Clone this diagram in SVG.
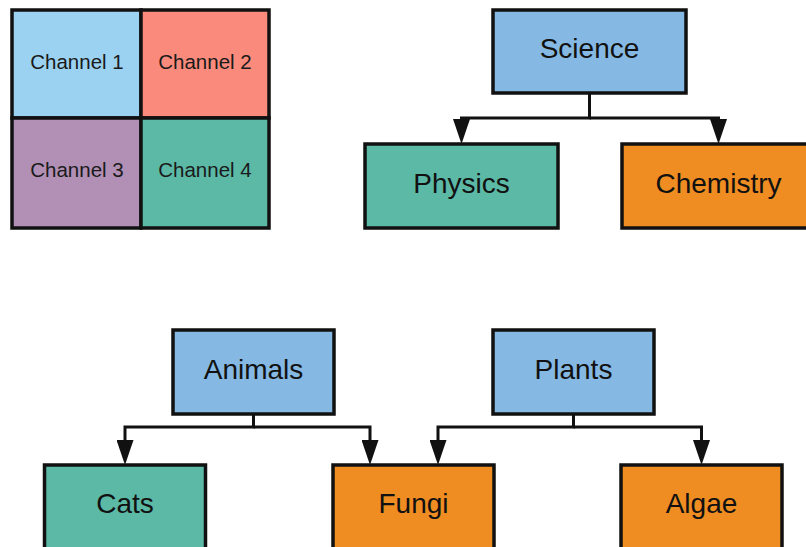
<svg xmlns="http://www.w3.org/2000/svg" width="806" height="547" viewBox="0 0 806 547">
  <style>
    .box { stroke: #111; stroke-width: 3.5; }
    .cell { stroke: #111; stroke-width: 3.5; }
    .blue { fill: #85b9e3; }
    .teal { fill: #5bb9a6; }
    .orange { fill: #ef8c22; }
    .lbl { font-family: "Liberation Sans", Arial, sans-serif; font-size: 28px; fill: #111; text-anchor: middle; }
    .sm { font-family: "Liberation Sans", Arial, sans-serif; font-size: 20.5px; fill: #1a1a1a; text-anchor: middle; }
    .wire { fill: none; stroke: #111; stroke-width: 3; marker-end: url(#arrow); }
  </style>
  <defs>
    <marker id="arrow" markerUnits="userSpaceOnUse" viewBox="0 0 25 17" refX="0" refY="8.5" markerWidth="25" markerHeight="17" orient="auto">
      <path d="M0,0 L25,8.5 L0,17 z" fill="#111"/>
    </marker>
  </defs>
  <rect width="806" height="547" fill="#fff"/>

  <!-- channel grid -->
  <g id="channel-grid">
    <g id="channel-1">
      <rect class="cell" x="12" y="10" width="129" height="108" fill="#9bd2f1"/>
      <text class="sm" x="77" y="69">Channel 1</text>
    </g>
    <g id="channel-2">
      <rect class="cell" x="141" y="10" width="128" height="108" fill="#fa8b7c"/>
      <text class="sm" x="205" y="69">Channel 2</text>
    </g>
    <g id="channel-3">
      <rect class="cell" x="12" y="118" width="129" height="110" fill="#b290b6"/>
      <text class="sm" x="77" y="177">Channel 3</text>
    </g>
    <g id="channel-4">
      <rect class="cell" x="141" y="118" width="128" height="110" fill="#5bb9a6"/>
      <text class="sm" x="205" y="177">Channel 4</text>
    </g>
  </g>

  <!-- connectors -->
  <g id="connectors">
    <path class="wire" d="M589.5,93 V118 H461.5 V119"/>
    <path class="wire" d="M589.5,118 H718.5 V119"/>
    <path class="wire" d="M253.5,414 V427 H125 V440"/>
    <path class="wire" d="M253.5,427 H370 V440"/>
    <path class="wire" d="M573.5,414 V427 H438 V440"/>
    <path class="wire" d="M573.5,427 H701.5 V440"/>
  </g>

  <g id="science">
    <rect class="box blue" x="493" y="10" width="193" height="83"/>
    <text class="lbl" x="589.5" y="58">Science</text>
  </g>
  <g id="physics">
    <rect class="box teal" x="365" y="144" width="193" height="84"/>
    <text class="lbl" x="461.5" y="193">Physics</text>
  </g>
  <g id="chemistry">
    <rect class="box orange" x="622" y="144" width="193" height="84"/>
    <text class="lbl" x="718.5" y="193">Chemistry</text>
  </g>

  <g id="animals">
    <rect class="box blue" x="173" y="330" width="161" height="84"/>
    <text class="lbl" x="253.5" y="379">Animals</text>
  </g>
  <g id="plants">
    <rect class="box blue" x="493" y="330" width="161" height="84"/>
    <text class="lbl" x="573.5" y="379">Plants</text>
  </g>
  <g id="cats">
    <rect class="box teal" x="44.5" y="465" width="161" height="100"/>
    <text class="lbl" x="125" y="513">Cats</text>
  </g>
  <g id="fungi">
    <rect class="box orange" x="333" y="465" width="161" height="100"/>
    <text class="lbl" x="413.5" y="513">Fungi</text>
  </g>
  <g id="algae">
    <rect class="box orange" x="621" y="465" width="161" height="100"/>
    <text class="lbl" x="701.5" y="513">Algae</text>
  </g>
</svg>
